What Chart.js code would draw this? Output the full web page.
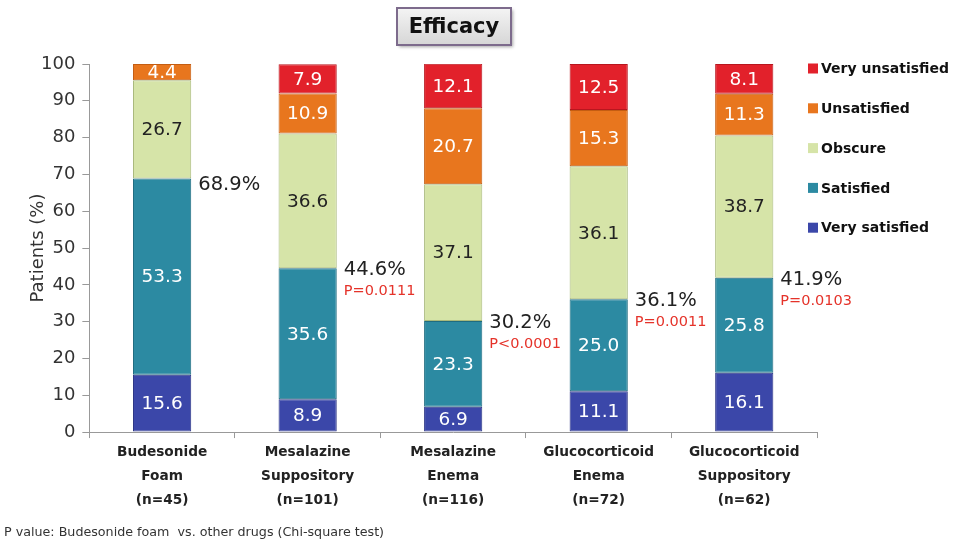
<!DOCTYPE html>
<html>
<head>
<meta charset="utf-8">
<script src="https://cdn.jsdelivr.net/npm/chart.js@4.4.0/dist/chart.umd.min.js"></script>
<style>
html, body { margin: 0; padding: 0; background: #fff; }
#wrap { width: 967px; height: 542px; position: relative; }
</style>
</head>
<body>
<div id="wrap"><canvas id="graficoEficacia"></canvas></div>
<script>
// dados
const categorias = [
    ['Budesonide', 'Foam', '(n=45)'],
    ['Mesalazine', 'Suppository', '(n=101)'],
    ['Mesalazine', 'Enema', '(n=116)'],
    ['Glucocorticoid', 'Enema', '(n=72)'],
    ['Glucocorticoid', 'Suppository', '(n=62)']
];
const verySatisfied = [15.6, 8.9, 6.9, 11.1, 16.1];
const satisfied = [53.3, 35.6, 23.3, 25.0, 25.8];
const obscure = [26.7, 36.6, 37.1, 36.1, 38.7];
const unsatisfied = [4.4, 10.9, 20.7, 15.3, 11.3];
const veryUnsatisfied = [0, 7.9, 12.1, 12.5, 8.1];
const favoraveis = [68.9, 44.6, 30.2, 36.1, 41.9];
const valoresP = ['', 'P=0.0111', 'P<0.0001', 'P=0.0011', 'P=0.0103'];
const yTicks = [0, 10, 20, 30, 40, 50, 60, 70, 80, 90, 100];

const FONTE = '"DejaVu Sans", Verdana, sans-serif';

// rótulos dentro das barras, percentuais, título, legenda e nota
const extrasPlugin = {
    id: 'extras',
    afterDatasetsDraw(chart) {
        const ctx = chart.ctx;
        ctx.save();
        ctx.textAlign = 'center';
        ctx.textBaseline = 'middle';
        ctx.font = '18.5px ' + FONTE;
        chart.data.datasets.forEach((ds, i) => {
            const meta = chart.getDatasetMeta(i);
            meta.data.forEach((bar, j) => {
                const v = ds.data[j];
                if (!v) return;
                ctx.fillStyle = ds.corTexto;
                ctx.fillText(v.toFixed(1), bar.x, (bar.y + bar.base) / 2 + 1);
            });
        });

        // percentual de satisfeitos + valor P
        const escalaY = chart.scales.y;
        const metaSat = chart.getDatasetMeta(1);
        ctx.textAlign = 'left';
        metaSat.data.forEach((bar, j) => {
            const x = bar.x + bar.width / 2 + 7;
            const y = escalaY.getPixelForValue(favoraveis[j]) + (j === 0 ? 6 : 2);
            ctx.fillStyle = '#222';
            ctx.font = '19.5px ' + FONTE;
            ctx.fillText(favoraveis[j].toFixed(1) + '%', x, y);
            if (valoresP[j]) {
                ctx.fillStyle = '#e5332a';
                ctx.font = '14.5px ' + FONTE;
                ctx.fillText(valoresP[j], x, y + 21);
            }
        });
        ctx.restore();
    },
    afterDraw(chart) {
        const ctx = chart.ctx;
        ctx.save();

        // título em caixa
        const bx = 397, by = 8, bw = 114, bh = 37;
        ctx.shadowColor = 'rgba(0,0,0,0.35)';
        ctx.shadowOffsetX = 2;
        ctx.shadowOffsetY = 2;
        ctx.shadowBlur = 3;
        const grad = ctx.createLinearGradient(0, by, 0, by + bh);
        grad.addColorStop(0, '#f4f4f4');
        grad.addColorStop(1, '#d6d6d6');
        ctx.fillStyle = grad;
        ctx.fillRect(bx, by, bw, bh);
        ctx.shadowColor = 'transparent';
        ctx.strokeStyle = '#7d6b8c';
        ctx.lineWidth = 2;
        ctx.strokeRect(bx, by, bw, bh);
        ctx.fillStyle = '#111';
        ctx.font = 'bold 21px ' + FONTE;
        ctx.textAlign = 'center';
        ctx.textBaseline = 'middle';
        ctx.fillText('Efficacy', bx + bw / 2, by + bh / 2 + 1);

        // título do eixo Y (sobrepõe a área dos ticks, como no original)
        const escalaY = chart.scales.y;
        ctx.save();
        ctx.translate(38, (escalaY.top + escalaY.bottom) / 2);
        ctx.rotate(-Math.PI / 2);
        ctx.fillStyle = '#333';
        ctx.font = '18px ' + FONTE;
        ctx.fillText('Patients (%)', 0, 0);
        ctx.restore();

        // legenda (ordem invertida)
        ctx.textAlign = 'left';
        ctx.font = 'bold 14px ' + FONTE;
        const itens = chart.data.datasets.slice().reverse();
        itens.forEach((ds, k) => {
            const y = 68.5 + k * 39.8;
            ctx.fillStyle = ds.backgroundColor;
            ctx.fillRect(808, y - 5, 10, 10);
            ctx.fillStyle = '#111';
            ctx.fillText(ds.label, 821, y + 1);
        });

        // nota de rodapé
        ctx.font = '12.7px ' + FONTE;
        ctx.fillStyle = '#333';
        ctx.fillText('P value: Budesonide foam  vs. other drugs (Chi-square test)', 4, 533);
        ctx.restore();
    }
};

function criarSerie(label, data, cor, borda, corTexto) {
    return {
        label: label,
        data: data,
        backgroundColor: cor,
        borderColor: borda,
        borderWidth: 1,
        borderSkipped: false,
        corTexto: corTexto,
        barPercentage: 0.4,
        categoryPercentage: 1.0
    };
}

document.addEventListener('DOMContentLoaded', () => {
    const ctx = document.getElementById('graficoEficacia').getContext('2d');
    window.graficoEficacia = new Chart(ctx, {
        type: 'bar',
        data: {
            labels: categorias,
            datasets: [
                criarSerie('Very satisfied', verySatisfied, '#3b47a9', '#2c3585', '#ffffff'),
                criarSerie('Satisfied', satisfied, '#2c8aa2', '#1f6c80', '#ffffff'),
                criarSerie('Obscure', obscure, '#d6e4a8', '#a9b97c', '#222222'),
                criarSerie('Unsatisfied', unsatisfied, '#e8761e', '#c45d12', '#ffffff'),
                criarSerie('Very unsatisfied', veryUnsatisfied, '#e2212b', '#b8161e', '#ffffff')
            ]
        },
        options: {
            responsive: true,
            maintainAspectRatio: false,
            animation: false,
            layout: { padding: { top: 64, right: 150, bottom: 28, left: 34 } },
            plugins: {
                legend: { display: false },
                tooltip: { enabled: false }
            },
            scales: {
                x: {
                    stacked: true,
                    border: { color: '#999', width: 1 },
                    grid: { drawOnChartArea: false, drawTicks: true, tickLength: 6, color: '#999' },
                    ticks: {
                        color: '#222',
                        font: { family: FONTE, size: 13.7, weight: 'bold', lineHeight: 1.75 },
                        padding: 2
                    }
                },
                y: {
                    stacked: true,
                    min: 0,
                    max: 100,
                    afterBuildTicks: (axis) => { axis.ticks = yTicks.map(v => ({ value: v })); },
                    border: { color: '#999', width: 1 },
                    grid: { drawOnChartArea: false, drawTicks: true, tickLength: 7, color: '#999' },
                    ticks: {
                        color: '#333',
                        font: { family: FONTE, size: 18 },
                        padding: 7
                    }
                }
            }
        },
        plugins: [extrasPlugin]
    });
});
</script>
</body>
</html>
